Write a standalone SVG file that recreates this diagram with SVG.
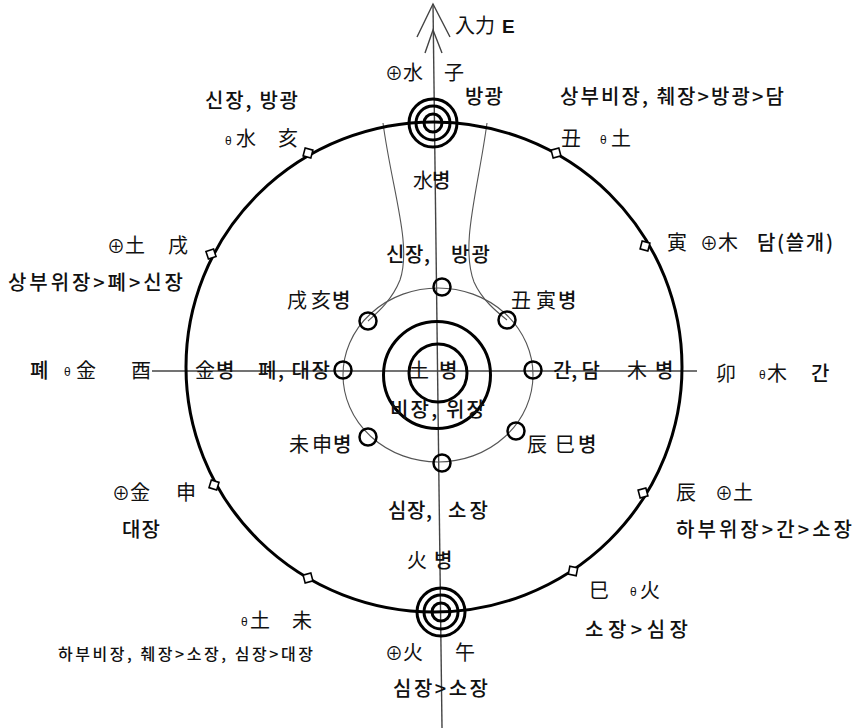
<svg xmlns="http://www.w3.org/2000/svg" width="855" height="728" viewBox="0 0 855 728">
<style>
text{font-family:"Noto Sans CJK KR","Liberation Sans",sans-serif;fill:#111}
.k{font-size:20px;font-weight:500}
.ks{font-size:16px;font-weight:500}
.h{font-size:20px;font-weight:400}
.p{font-size:18px;font-weight:400}
.t{font-size:12px;font-family:"Liberation Sans",sans-serif}
.thin{fill:none;stroke:#555;stroke-width:1.1}
.axis{fill:none;stroke:#444;stroke-width:1.4}
.thick{fill:none;stroke:#000;stroke-width:3}
.sm{fill:none;stroke:#000;stroke-width:2.5}
.mk{fill:#fff;stroke:#000;stroke-width:1.6}
</style>
<defs>
<rect id="dia" x="-4" y="-4" width="8" height="8" class="mk"/>
</defs>

<g id="connectors">
<line class="axis" x1="433" y1="4" x2="442" y2="728"/>
<line class="axis" x1="152" y1="371" x2="697" y2="371"/>
<polyline class="axis" points="417,37 433,4 450,37"/>
<polyline class="axis" points="425,53 433,30 442,53"/>
<path class="thin" d="M383,123 C392,190 412,245 400,280 C392,300 378,312 368,321"/>
<path class="thin" d="M487,123 C478,190 460,245 474,282 C482,300 497,312 507,320"/>
</g>

<g id="outer-circle">
<ellipse class="thick" cx="434" cy="367" rx="248" ry="245"/>
<use href="#dia" transform="translate(308,153) rotate(15)"/>
<use href="#dia" transform="translate(556,153) rotate(75)"/>
<use href="#dia" transform="translate(645,246) rotate(105)"/>
<use href="#dia" transform="translate(643,493) rotate(165)"/>
<use href="#dia" transform="translate(573,571) rotate(191)"/>
<use href="#dia" transform="translate(308,578) rotate(255)"/>
<use href="#dia" transform="translate(214,485) rotate(287)"/>
<use href="#dia" transform="translate(211,254) rotate(342)"/>
</g>

<g id="middle-circle">
<ellipse class="thin" cx="438" cy="375" rx="95" ry="87"/>
</g>

<g id="top-ring">
<circle class="thick" cx="433" cy="123" r="24"/>
<circle class="thick" cx="433" cy="123" r="17"/>
<circle class="thick" cx="433" cy="123" r="9"/>
</g>
<g id="bottom-ring">
<circle class="thick" cx="441" cy="612" r="24"/>
<circle class="thick" cx="441" cy="612" r="17"/>
<circle class="thick" cx="441" cy="612" r="9"/>
</g>
<g id="center">
<circle class="thick" cx="437" cy="375" r="53.5"/>
<circle class="thick" cx="438" cy="373" r="29"/>
</g>

<g id="small-circles">
<circle class="sm" cx="442" cy="287" r="8.5"/>
<circle class="sm" cx="368" cy="321" r="8.5"/>
<circle class="sm" cx="507" cy="320" r="8.5"/>
<circle class="sm" cx="343" cy="370" r="8.5"/>
<circle class="sm" cx="533" cy="370" r="8.5"/>
<circle class="sm" cx="368" cy="437" r="8.5"/>
<circle class="sm" cx="516" cy="431" r="8.5"/>
<circle class="sm" cx="442" cy="463" r="8.5"/>
</g>

<g id="label-input">
<text class="h" x="455" y="33">入力</text>
<text x="502" y="33" style="font-family:'Liberation Sans',sans-serif;font-weight:700;font-size:19px">E</text>
</g>
<g id="label-zi">
<text x="385" y="80"><tspan class="p">⊕</tspan><tspan class="h">水</tspan></text><text class="h" x="444" y="80">子</text>
<text class="k" x="465" y="104" textLength="38">방광</text>
</g>
<g id="label-hai">
<text class="k" x="205" y="108" textLength="93">신장, 방광</text>
<text class="t" x="225" y="145">θ</text><text class="h" x="236" y="146">水</text><text class="h" x="278" y="146">亥</text>
</g>
<g id="label-chou">
<text class="k" x="560" y="104" textLength="224">상부비장, 췌장&gt;방광&gt;담</text>
<text class="h" x="561" y="146">丑</text><text class="t" x="600" y="144">θ</text><text class="h" x="611" y="146">土</text>
</g>
<g id="label-xu">
<text x="107" y="253"><tspan class="p">⊕</tspan><tspan class="h">土</tspan></text><text class="h" x="168" y="253">戌</text>
<text class="k" x="8" y="290" textLength="175">상부위장&gt;폐&gt;신장</text>
</g>
<g id="label-yin">
<text class="h" x="667" y="250">寅</text><text x="700" y="250"><tspan class="p">⊕</tspan><tspan class="h">木</tspan></text>
<text class="k" x="757" y="250" textLength="76">담(쓸개)</text>
</g>
<g id="label-you">
<text class="k" x="30" y="378">폐</text><text class="t" x="64" y="376">θ</text><text class="h" x="76" y="378">金</text><text class="h" x="131" y="378">酉</text>
</g>
<g id="label-metal">
<text class="h" x="195" y="378">金</text><text class="k" x="216" y="378">병</text><text class="k" x="258" y="378" textLength="72">폐, 대장</text>
</g>
<g id="label-mao">
<text class="h" x="716" y="381">卯</text><text class="t" x="759" y="379">θ</text><text class="h" x="767" y="381">木</text><text class="k" x="811" y="381">간</text>
</g>
<g id="label-wood">
<text class="k" x="553" y="378" textLength="47">간, 담</text><text class="h" x="627" y="378">木</text><text class="k" x="655" y="378">병</text>
</g>
<g id="label-earth">
<text class="h" x="409" y="378">土</text><text class="k" x="439" y="378">병</text>
<text class="k" x="390" y="417" textLength="95">비장, 위장</text>
</g>
<g id="label-xuhai"><text class="h" x="287" y="308">戌</text><text class="h" x="311" y="308">亥</text><text class="k" x="332" y="308">병</text></g>
<g id="label-chouyin"><text class="h" x="511" y="308">丑</text><text class="h" x="536" y="308">寅</text><text class="k" x="558" y="308">병</text></g>
<g id="label-water">
<text class="k" x="386" y="262" textLength="44">신장,</text><text class="k" x="451" y="262" textLength="39">방광</text>
<text class="h" x="413" y="188">水</text><text class="k" x="432" y="188">병</text>
</g>
<g id="label-weishen"><text class="h" x="289" y="452">未</text><text class="h" x="312" y="452">申</text><text class="k" x="333" y="452">병</text></g>
<g id="label-chensi"><text class="h" x="527" y="452">辰</text><text class="h" x="555" y="452">巳</text><text class="k" x="578" y="452">병</text></g>
<g id="label-fire">
<text class="k" x="388" y="518" textLength="44">심장,</text><text class="k" x="448" y="518" textLength="40">소장</text>
<text class="h" x="407" y="568">火</text><text class="k" x="434" y="568">병</text>
</g>
<g id="label-wu">
<text x="385" y="660"><tspan class="p">⊕</tspan><tspan class="h">火</tspan></text><text class="h" x="455" y="660">午</text>
<text class="k" x="393" y="696" textLength="95">심장&gt;소장</text>
</g>
<g id="label-chen">
<text class="h" x="676" y="500">辰</text><text x="715" y="500"><tspan class="p">⊕</tspan><tspan class="h">土</tspan></text>
<text class="k" x="676" y="537" textLength="176">하부위장&gt;간&gt;소장</text>
</g>
<g id="label-shen">
<text x="112" y="500"><tspan class="p">⊕</tspan><tspan class="h">金</tspan></text><text class="h" x="176" y="500">申</text>
<text class="k" x="122" y="537" textLength="38">대장</text>
</g>
<g id="label-si">
<text class="h" x="589" y="598">巳</text><text class="t" x="630" y="596">θ</text><text class="h" x="640" y="598">火</text>
<text class="k" x="585" y="637" textLength="103">소장&gt;심장</text>
</g>
<g id="label-wei">
<text class="t" x="241" y="626">θ</text><text class="h" x="250" y="628">土</text><text class="h" x="292" y="628">未</text>
<text class="ks" x="58" y="660" textLength="255">하부비장, 췌장&gt;소장, 심장&gt;대장</text>
</g>
</svg>
